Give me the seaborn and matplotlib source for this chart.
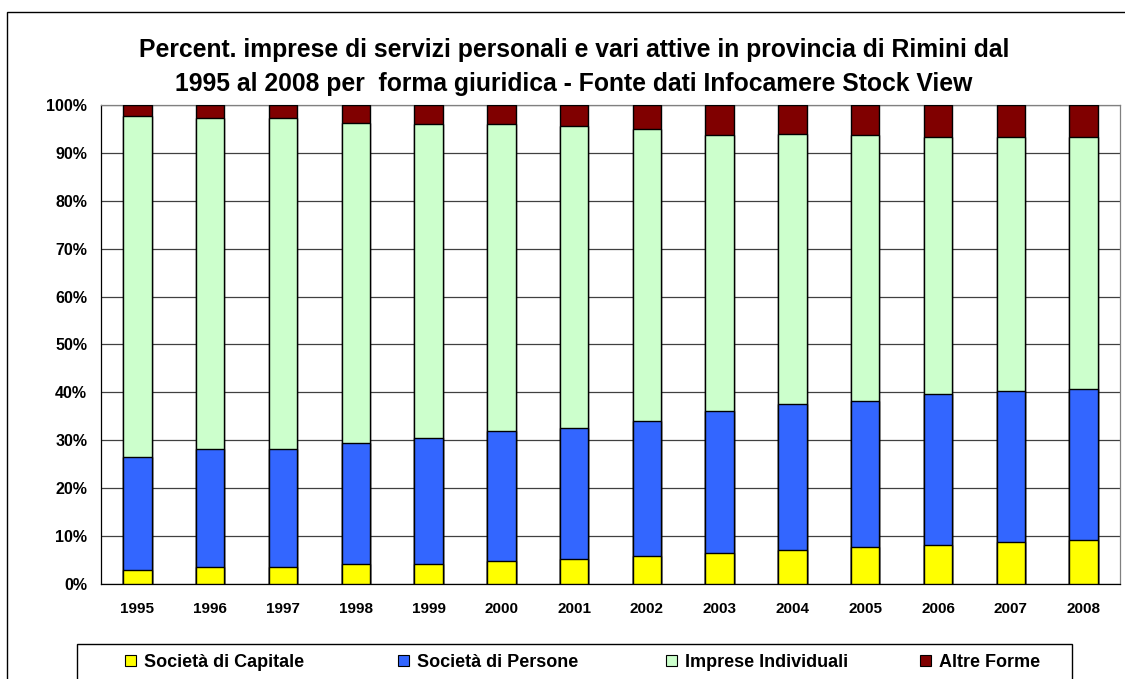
import numpy as np
import pandas as pd
import matplotlib
matplotlib.use("Agg")
import matplotlib.pyplot as plt
import seaborn as sns
from matplotlib.patches import Rectangle, Patch

# valori (percentuali per anno)
years = ["1995", "1996", "1997", "1998", "1999", "2000", "2001",
         "2002", "2003", "2004", "2005", "2006", "2007", "2008"]
capitale = [2.9, 3.5, 3.5, 4.2, 4.2, 4.9, 5.2, 5.9, 6.5, 7.2, 7.8, 8.2, 8.8, 9.1]
persone = [23.7, 24.6, 24.6, 25.3, 26.3, 27.0, 27.3, 28.2, 29.6, 30.3, 30.5, 31.5, 31.55, 31.6]
individuali = [71.0, 69.2, 69.2, 66.8, 65.5, 64.1, 63.1, 60.9, 57.65, 56.5, 55.45, 53.7, 53.05, 52.7]
altre = [2.4, 2.7, 2.7, 3.7, 4.0, 4.0, 4.4, 5.0, 6.25, 6.0, 6.25, 6.6, 6.6, 6.6]

series_names = ["Società di Capitale", "Società di Persone", "Imprese Individuali", "Altre Forme"]
colors = ["#FFFF00", "#3366FF", "#CCFFCC", "#800000"]

df = pd.DataFrame({"anno": years, series_names[0]: capitale, series_names[1]: persone,
                   series_names[2]: individuali, series_names[3]: altre})

vals = df[series_names].to_numpy()
vals = vals / vals.sum(axis=1, keepdims=True) * 100
cum = np.cumsum(vals, axis=1)

sns.set_style("white")
plt.rcParams["font.family"] = ["Liberation Sans", "DejaVu Sans"]
plt.rcParams["font.weight"] = "bold"
plt.rcParams["text.color"] = "black"
plt.rcParams["xtick.color"] = "black"
plt.rcParams["ytick.color"] = "black"

W, H = 1125, 679
fig = plt.figure(figsize=(W / 100, H / 100), dpi=100)
ax = fig.add_axes([101 / W, 1 - 584 / H, (1120 - 101) / W, (584 - 105) / H])

# barre sovrapposte: dal cumulato più alto al più basso
for i in reversed(range(len(series_names))):
    sns.barplot(x=df["anno"], y=cum[:, i], order=years, color=colors[i], saturation=1,
                width=0.39, edgecolor="black", linewidth=1.0, ax=ax, zorder=3)

ax.set_ylim(0, 100)
ax.set_xlim(-0.5, len(years) - 0.5)
ax.set_yticks(np.arange(0, 101, 10))
ax.set_yticklabels([f"{v}%" for v in range(0, 101, 10)])
ax.set_xlabel("")
ax.set_ylabel("")
ax.yaxis.grid(True, color="#404040", linewidth=0.9)
ax.set_axisbelow(True)

ax.set_xticks(np.arange(-0.5, len(years), 1), minor=True)
ax.tick_params(axis="x", which="major", length=0, pad=13, labelsize=11)
ax.tick_params(axis="x", which="minor", length=4, direction="out", color="black", width=0.8)
ax.tick_params(axis="y", which="major", length=5, direction="out", color="black",
               width=0.8, pad=5, labelsize=11.5)
for lab in ax.get_xticklabels() + ax.get_yticklabels():
    lab.set_fontweight("bold")

for s in ["top", "right"]:
    ax.spines[s].set_color("#808080")
for s in ["left", "bottom"]:
    ax.spines[s].set_color("black")
for s in ax.spines.values():
    s.set_linewidth(0.9)

# titolo
fig.text(574 / W, 1 - 57 / H, "Percent. imprese di servizi personali e vari attive in provincia di Rimini dal",
         ha="center", va="baseline", fontsize=17.8, fontweight="bold")
fig.text(574 / W, 1 - 90.5 / H, "1995 al 2008 per  forma giuridica - Fonte dati Infocamere Stock View",
         ha="center", va="baseline", fontsize=17.8, fontweight="bold")

# bordo esterno del grafico
fig.patches.append(Rectangle((7 / W, -0.1), 1.1, 1.1 - 12 / H, transform=fig.transFigure,
                             fill=False, edgecolor="black", linewidth=1.0))
# cornice legenda
fig.patches.append(Rectangle((77 / W, -0.1), (1072 - 77) / W, 0.1 + 1 - 644 / H,
                             transform=fig.transFigure, fill=False, edgecolor="black", linewidth=1.0))

# voci di legenda, una per posizione
leg_x = [125, 398, 666, 920]
for name, col, xp in zip(series_names, colors, leg_x):
    fig.legend([Patch(facecolor=col, edgecolor="black", linewidth=0.8)], [name],
               loc="lower left", bbox_to_anchor=(xp / W, 1 - 671 / H),
               frameon=False, borderpad=0, borderaxespad=0, handlelength=0.6,
               handleheight=0.6, handletextpad=0.45,
               prop={"weight": "bold", "size": 13})

fig.savefig("out.png", dpi=100)
